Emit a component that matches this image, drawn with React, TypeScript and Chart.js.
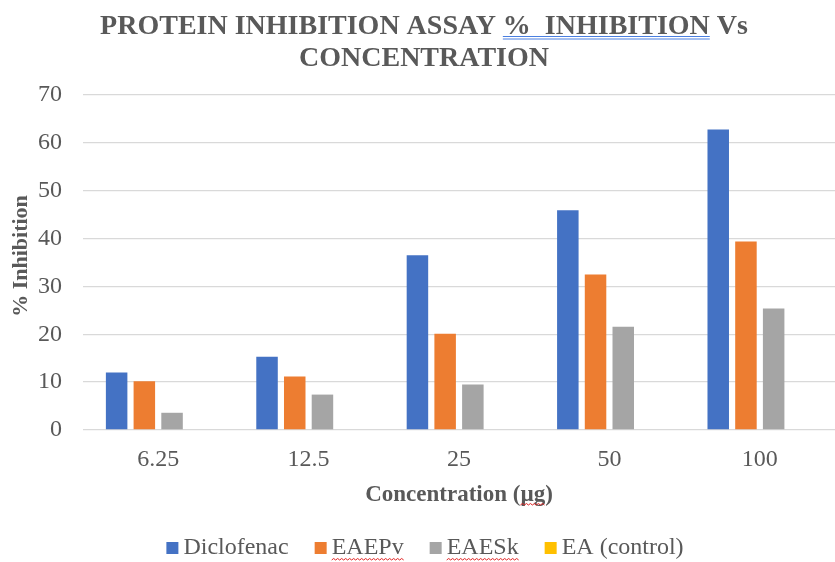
import React, { useEffect, useRef } from "react";
import { Chart, registerables } from "chart.js";

Chart.register(...registerables);

const categories = ["6.25", "12.5", "25", "50", "100"];
const diclofenac = [12.0, 15.3, 36.5, 45.9, 62.8];
const eaepv = [10.2, 11.2, 20.1, 32.5, 39.4];
const eaesk = [3.6, 7.4, 9.5, 21.6, 25.4];
const eaControl = [0, 0, 0, 0, 0];
const yTicks = [0, 10, 20, 30, 40, 50, 60, 70];
const seriesNames = ["Diclofenac", "EAEPv", "EAESk", "EA (control)"];
const seriesColors = ["#4472C4", "#ED7D31", "#A5A5A5", "#FFC000"];
const misspelled = ["EAEPv", "EAESk"];

const titleLine1Pre = "PROTEIN INHIBITION ASSAY ";
const titleLine1Link = "%  INHIBITION";
const titleLine1Post = " Vs";
const titleLine2 = "CONCENTRATION";
const xTitle = "Concentration (µg)";
const yTitle = "% Inhibition";

const SERIF = "'Liberation Serif', 'Times New Roman', serif";
const TEXT = "#595959";

function squiggle(ctx: CanvasRenderingContext2D, x1: number, x2: number, y: number) {
  ctx.save();
  ctx.strokeStyle = "#e02020";
  ctx.lineWidth = 1;
  ctx.beginPath();
  let up = true;
  ctx.moveTo(x1, y);
  for (let x = x1 + 2; x <= x2; x += 2) {
    ctx.lineTo(x, up ? y - 1.5 : y);
    up = !up;
  }
  ctx.stroke();
  ctx.restore();
}

const decorPlugin = {
  id: "decor",
  afterDraw(chart: any) {
    const ctx: CanvasRenderingContext2D = chart.ctx;
    ctx.save();
    // Title
    ctx.font = `bold 28px ${SERIF}`;
    ctx.fillStyle = TEXT;
    ctx.textBaseline = "alphabetic";
    ctx.textAlign = "left";
    const cx = 424;
    const wPre = ctx.measureText(titleLine1Pre).width;
    const wLink = ctx.measureText(titleLine1Link).width;
    const wPost = ctx.measureText(titleLine1Post).width;
    const total = wPre + wLink + wPost;
    const x = cx - total / 2;
    const y1 = 34;
    ctx.fillText(titleLine1Pre, x, y1);
    ctx.fillText(titleLine1Link, x + wPre, y1);
    ctx.fillText(titleLine1Post, x + wPre + wLink, y1);
    ctx.strokeStyle = "#4a7fe0";
    ctx.lineWidth = 1;
    ctx.beginPath();
    ctx.moveTo(x + wPre, y1 + 2.5);
    ctx.lineTo(x + wPre + wLink, y1 + 2.5);
    ctx.moveTo(x + wPre, y1 + 5);
    ctx.lineTo(x + wPre + wLink, y1 + 5);
    ctx.stroke();
    const w2 = ctx.measureText(titleLine2).width;
    ctx.fillText(titleLine2, cx - w2 / 2, 66);

    // Y axis title
    ctx.save();
    ctx.font = `bold 22px ${SERIF}`;
    ctx.fillStyle = TEXT;
    ctx.textAlign = "center";
    ctx.textBaseline = "middle";
    ctx.translate(21, 256);
    ctx.rotate(-Math.PI / 2);
    ctx.fillText(yTitle, 0, 0);
    ctx.restore();

    // Legend (manual, from datasets)
    ctx.font = `24px ${SERIF}`;
    ctx.textBaseline = "middle";
    ctx.textAlign = "left";
    const ds = chart.data.datasets;
    const textOff = 17;
    const gap = 26;
    const widths = ds.map((d: any) => ctx.measureText(d.label).width);
    const totalW =
      widths.reduce((a: number, b: number) => a + b + textOff, 0) + gap * (ds.length - 1);
    let lx = 425 - totalW / 2;
    const ly = 548;
    ds.forEach((d: any, i: number) => {
      ctx.fillStyle = d.backgroundColor;
      ctx.fillRect(lx, ly - 6, 12, 12);
      ctx.fillStyle = TEXT;
      ctx.fillText(d.label, lx + textOff, ly);
      if (misspelled.includes(d.label)) {
        squiggle(ctx, lx + textOff, lx + textOff + widths[i], ly + 12);
      }
      lx += textOff + widths[i] + gap;
    });

    // squiggle under µg in x title
    const xs = chart.scales.x;
    ctx.font = `bold 23px ${SERIF}`;
    const fw = ctx.measureText(xTitle).width;
    const pre = ctx.measureText("Concentration (").width;
    const mg = ctx.measureText("µg").width;
    const start = (xs.left + xs.right) / 2 - fw / 2 + pre;
    squiggle(ctx, start, start + mg, 505);
    ctx.restore();
  },
};

export default function App() {
  const ref = useRef<HTMLCanvasElement | null>(null);
  useEffect(() => {
    document.body.style.margin = "0";
    const canvas = ref.current;
    if (!canvas) return;
    const chart = new Chart(canvas, {
      type: "bar",
      data: {
        labels: categories,
        datasets: seriesNames.map((name, i) => ({
          label: name,
          data: [diclofenac, eaepv, eaesk, eaControl][i],
          backgroundColor: seriesColors[i],
        })),
      },
      options: {
        responsive: false,
        animation: false,
        layout: { padding: { top: 95, left: 8, right: 0, bottom: 42 } },
        datasets: {
          bar: { categoryPercentage: 0.737, barPercentage: 0.776, borderWidth: 0 },
        },
        scales: {
          y: {
            min: 0,
            max: 70,
            afterBuildTicks: (axis: any) => {
              axis.ticks = yTicks.map((v) => ({ value: v }));
            },
            afterFit: (axis: any) => {
              axis.width = 75;
            },
            ticks: { font: { family: SERIF, size: 24 }, color: TEXT, padding: 21 },
            grid: { color: "#d9d9d9", lineWidth: 1.3, drawTicks: false },
            border: { display: false },
            title: { display: false },
          },
          x: {
            afterFit: (axis: any) => {
              axis.height = 90;
            },
            ticks: { font: { family: SERIF, size: 24 }, color: TEXT, padding: 15 },
            grid: { display: false, drawTicks: false },
            border: { display: false },
            title: {
              display: true,
              text: xTitle,
              font: { family: SERIF, size: 23, weight: "bold" },
              color: TEXT,
              padding: { top: 0, bottom: 11 },
            },
          },
        },
        plugins: {
          title: { display: false },
          tooltip: { enabled: false },
          legend: { display: false },
        },
      },
      plugins: [decorPlugin],
    } as any);
    return () => chart.destroy();
  }, []);
  return (
    <div style={{ width: 835, height: 562, background: "#fff" }}>
      <canvas ref={ref} width={835} height={562} style={{ display: "block" }} />
    </div>
  );
}
